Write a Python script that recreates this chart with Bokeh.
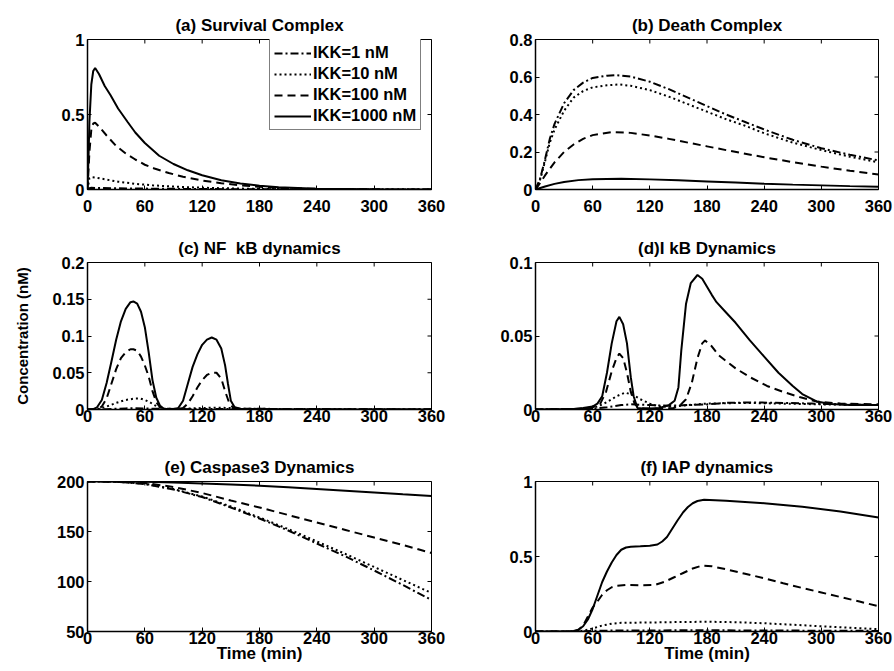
import math
from bokeh.plotting import figure
from bokeh.layouts import gridplot
from bokeh.models import Range1d, FixedTicker, Legend, LegendItem
from bokeh.embed import file_html
from bokeh.resources import INLINE

FONT = "Liberation Sans"

X_TICKS = [0, 60, 120, 180, 240, 300, 360]
SERIES_LABELS = ["IKK=1 nM", "IKK=10 nM", "IKK=100 nM", "IKK=1000 nM"]

# ---------------- (a) Survival Complex ----------------
A_T_1 = [0, 2, 4, 10, 30, 60, 100, 150, 200, 250, 360]
A_Y_1 = [0, 0.009, 0.011, 0.010, 0.008, 0.006, 0.004, 0.002, 0.001, 0.0005, 0]
A_T_10 = [0, 2, 4, 8, 20, 32, 50, 68, 85, 102, 130, 160, 200, 260, 360]
A_Y_10 = [0, 0.075, 0.083, 0.080, 0.066, 0.052, 0.038, 0.028, 0.021, 0.016, 0.010, 0.006, 0.003, 0.001, 0]
A_T_100 = [0, 1, 2, 4, 6, 8, 12, 20, 30, 40, 50, 60, 70, 85, 100, 120, 140, 160, 180, 200, 240, 300, 360]
A_Y_100 = [0, 0.12, 0.25, 0.40, 0.44, 0.445, 0.42, 0.36, 0.29, 0.24, 0.20, 0.165, 0.14, 0.11, 0.085, 0.06, 0.042,
           0.028, 0.018, 0.011, 0.004, 0.001, 0]
A_T_1000 = [0, 1, 2, 4, 6, 8, 12, 18, 24, 32, 42, 50, 60, 75, 90, 105, 120, 140, 160, 180, 200, 240, 300, 360]
A_Y_1000 = [0, 0.2, 0.45, 0.70, 0.79, 0.81, 0.77, 0.69, 0.63, 0.54, 0.45, 0.38, 0.31, 0.225, 0.17, 0.128, 0.095,
            0.062, 0.04, 0.025, 0.015, 0.005, 0.001, 0]

# ---------------- (b) Death Complex ----------------
B_T_1 = [0, 5, 10, 15, 20, 30, 40, 50, 60, 75, 85, 100, 120, 140, 160, 180, 200, 220, 240, 270, 300, 330, 360]
B_Y_1 = [0, 0.06, 0.16, 0.27, 0.35, 0.46, 0.53, 0.57, 0.595, 0.607, 0.61, 0.602, 0.575, 0.535, 0.49, 0.445, 0.40,
         0.36, 0.32, 0.265, 0.22, 0.185, 0.155]
B_T_10 = [0, 5, 10, 15, 20, 30, 40, 50, 60, 75, 88, 100, 120, 140, 160, 180, 200, 220, 240, 270, 300, 330, 360]
B_Y_10 = [0, 0.055, 0.15, 0.25, 0.32, 0.42, 0.49, 0.525, 0.545, 0.556, 0.56, 0.553, 0.53, 0.495, 0.455, 0.415,
          0.375, 0.34, 0.30, 0.25, 0.21, 0.175, 0.145]
B_T_100 = [0, 5, 10, 15, 20, 30, 40, 50, 60, 80, 100, 120, 140, 160, 180, 200, 240, 270, 300, 330, 360]
B_Y_100 = [0, 0.035, 0.075, 0.11, 0.145, 0.20, 0.24, 0.27, 0.29, 0.306, 0.302, 0.288, 0.27, 0.25, 0.23, 0.21,
           0.172, 0.146, 0.122, 0.10, 0.08]
B_T_1000 = [0, 5, 10, 20, 30, 45, 60, 90, 120, 150, 180, 210, 240, 270, 300, 330, 360]
B_Y_1000 = [0, 0.008, 0.016, 0.03, 0.04, 0.05, 0.055, 0.057, 0.054, 0.049, 0.043, 0.037, 0.031, 0.026, 0.022,
            0.018, 0.015]

# ---------------- (c) NF kB dynamics ----------------
C_T_1 = [0, 20, 40, 50, 70, 100, 130, 160, 360]
C_Y_1 = [0, 0.0005, 0.0015, 0.0018, 0.001, 0.0005, 0.0008, 0.0005, 0.0002]
C_T_10 = [0, 10, 15, 20, 30, 40, 50, 55, 60, 65, 70, 75, 80, 100, 120, 135, 150, 160, 360]
C_Y_10 = [0, 0.0005, 0.002, 0.004, 0.009, 0.013, 0.015, 0.015, 0.013, 0.01, 0.006, 0.003, 0.001, 0.001, 0.002,
          0.0025, 0.002, 0.001, 0]
C_T_100 = [0, 10, 15, 20, 25, 30, 35, 40, 45, 48, 52, 56, 60, 64, 68, 72, 76, 80, 95, 100, 105, 110, 115, 120, 125,
           130, 135, 140, 144, 148, 152, 160, 360]
C_Y_100 = [0, 0.001, 0.004, 0.015, 0.035, 0.055, 0.07, 0.078, 0.082, 0.082, 0.08, 0.072, 0.06, 0.045, 0.025, 0.01,
           0.003, 0.001, 0.0005, 0.002, 0.008, 0.018, 0.03, 0.04, 0.047, 0.05, 0.05, 0.042, 0.025, 0.01, 0.003,
           0.001, 0]
C_T_1000 = [0, 6, 10, 15, 20, 25, 30, 35, 40, 45, 48, 52, 56, 60, 64, 68, 72, 76, 80, 90, 95, 100, 105, 110, 115,
            120, 125, 130, 135, 140, 144, 147, 150, 154, 160, 200, 360]
C_Y_1000 = [0, 0.0005, 0.003, 0.013, 0.036, 0.065, 0.095, 0.12, 0.137, 0.146, 0.147, 0.144, 0.133, 0.112, 0.078,
            0.04, 0.016, 0.005, 0.001, 0.0005, 0.002, 0.012, 0.035, 0.058, 0.075, 0.088, 0.095, 0.098, 0.095, 0.083,
            0.06, 0.035, 0.012, 0.003, 0.001, 0.0005, 0]

# ---------------- (d) IkB dynamics ----------------
D_T_1 = [0, 60, 75, 90, 100, 120, 140, 160, 180, 200, 230, 260, 290, 320, 360]
D_Y_1 = [0, 0.0005, 0.0015, 0.003, 0.0035, 0.003, 0.0025, 0.003, 0.0035, 0.0045, 0.0048, 0.0045, 0.004, 0.0035,
         0.003]
D_T_10 = [0, 55, 65, 75, 85, 94, 102, 110, 120, 130, 145, 160, 180, 220, 260, 300, 360]
D_Y_10 = [0, 0.0005, 0.002, 0.005, 0.009, 0.0115, 0.01, 0.007, 0.004, 0.002, 0.002, 0.003, 0.004, 0.0045, 0.004,
          0.0035, 0.003]
D_T_100 = [0, 50, 60, 68, 74, 80, 85, 88, 92, 96, 100, 104, 108, 130, 145, 152, 158, 164, 170, 175, 178, 185, 192,
           200, 210, 225, 243, 260, 277, 295, 320, 360]
D_Y_100 = [0, 0.0005, 0.0015, 0.004, 0.012, 0.026, 0.035, 0.038, 0.035, 0.025, 0.012, 0.004, 0.001, 0.0005, 0.001,
           0.003, 0.007, 0.018, 0.035, 0.045, 0.047, 0.043, 0.037, 0.033, 0.028, 0.022, 0.016, 0.012, 0.0085,
           0.0055, 0.004, 0.0035]
D_T_1000 = [0, 40, 50, 60, 65, 70, 75, 80, 85, 88, 92, 96, 100, 103, 107, 115, 130, 140, 146, 150, 153, 158, 163,
            170, 175, 180, 185, 190, 200, 210, 225, 240, 255, 270, 280, 295, 310, 330, 360]
D_Y_1000 = [0, 0.0003, 0.001, 0.002, 0.004, 0.009, 0.025, 0.045, 0.06, 0.063, 0.058, 0.045, 0.022, 0.009, 0.001,
            0.0005, 0.001, 0.003, 0.006, 0.015, 0.04, 0.072, 0.086, 0.0915, 0.089, 0.0835, 0.078, 0.073, 0.066,
            0.059, 0.047, 0.036, 0.025, 0.016, 0.0105, 0.0055, 0.0037, 0.003, 0.003]

# ---------------- (e) Caspase3 dynamics ----------------
E_T = [0, 30, 60, 90, 120, 150, 180, 210, 240, 270, 300, 330, 360]
E_Y_1 = [200, 199.8, 197.5, 192, 184.5, 174, 163, 151, 138, 125, 111, 96.5, 81.5]
E_Y_10 = [200, 199.8, 197.8, 192.5, 185, 175, 164, 152.5, 140, 127.5, 114.5, 101.5, 88.5]
E_Y_100 = [200, 199.8, 198.5, 194.5, 188.5, 181, 174, 166.5, 159, 151.5, 144, 136.5, 128.5]
E_Y_1000 = [200, 200, 199.8, 199, 198, 197, 195.8, 194.2, 192.5, 190.8, 189, 187.2, 185.5]

# ---------------- (f) IAP dynamics ----------------
F_T_1 = [0, 45, 60, 90, 180, 270, 360]
F_Y_1 = [0, 0, 0.004, 0.007, 0.008, 0.006, 0.004]
F_T_10 = [0, 40, 50, 60, 70, 80, 90, 120, 150, 180, 210, 240, 270, 300, 330, 360]
F_Y_10 = [0, 0, 0.005, 0.02, 0.04, 0.052, 0.058, 0.06, 0.063, 0.065, 0.062, 0.055, 0.045, 0.035, 0.025, 0.016]
F_T_100 = [0, 40, 45, 50, 55, 60, 65, 70, 75, 80, 85, 95, 110, 125, 135, 145, 155, 165, 175, 185, 200, 220, 240,
           260, 280, 300, 320, 340, 360]
F_Y_100 = [0, 0, 0.01, 0.04, 0.1, 0.16, 0.2, 0.245, 0.275, 0.295, 0.305, 0.31, 0.308, 0.31, 0.33, 0.36, 0.39, 0.42,
           0.44, 0.435, 0.415, 0.385, 0.355, 0.322, 0.29, 0.26, 0.23, 0.2, 0.168]
F_T_1000 = [0, 35, 40, 45, 50, 55, 60, 65, 70, 75, 80, 85, 90, 95, 100, 110, 120, 128, 133, 138, 143, 149, 155, 160,
            165, 170, 177, 200, 240, 280, 320, 360]
F_Y_1000 = [0, 0, 0.003, 0.012, 0.035, 0.08, 0.15, 0.24, 0.33, 0.40, 0.46, 0.51, 0.545, 0.56, 0.565, 0.568, 0.572,
            0.58, 0.60, 0.63, 0.68, 0.74, 0.795, 0.83, 0.855, 0.87, 0.878, 0.872, 0.855, 0.832, 0.80, 0.76]

DASHES = ["8 3 2 3", "2 3", "8 5", "solid"]

TICK_SIZE = "16.5px"
TITLE_SIZE = "17px"


def style_text_axis(ax):
    ax.major_label_text_font = FONT
    ax.major_label_text_font_style = "bold"
    ax.major_label_text_font_size = TICK_SIZE
    ax.major_label_text_color = "black"
    ax.axis_label_text_font = FONT
    ax.axis_label_text_font_style = "bold"
    ax.axis_label_text_color = "black"
    ax.major_tick_in = 4
    ax.major_tick_out = 0
    ax.minor_tick_line_color = None
    ax.major_tick_line_color = "black"
    ax.axis_line_color = "black"
    ax.axis_line_width = 1.5


def panel(title, ylo, yhi, yticks, ylabels, series, width, height, bl, br, bt, bb,
          xstand, xlabel=None, ylabel=None, legend=False):
    p = figure(width=width, height=height, x_range=Range1d(0, 360), y_range=Range1d(ylo, yhi),
               output_backend="svg", toolbar_location=None,
               min_border_left=bl, min_border_right=br, min_border_top=bt, min_border_bottom=bb)
    p.background_fill_color = "white"
    p.border_fill_color = "white"
    p.outline_line_color = "black"
    p.outline_line_width = 1
    p.outline_line_alpha = 1
    p.grid.visible = False

    p.title.text = title
    p.title.text_font = FONT
    p.title.text_font_style = "bold"
    p.title.text_font_size = TITLE_SIZE
    p.title.align = "center"
    p.title.text_color = "black"
    p.title.standoff = 9

    xa = p.xaxis[0]
    xa.ticker = FixedTicker(ticks=X_TICKS)
    style_text_axis(xa)
    xa.major_label_standoff = xstand
    if xlabel:
        xa.axis_label = xlabel
        xa.axis_label_text_font_size = "17px"
        xa.axis_label_standoff = -3

    ya = p.yaxis[0]
    ya.ticker = FixedTicker(ticks=yticks)
    ya.major_label_overrides = {t: s for t, s in zip(yticks, ylabels)}
    style_text_axis(ya)
    ya.major_label_standoff = 3
    if ylabel:
        ya.axis_label = ylabel
        ya.axis_label_text_font_size = "15px"
        ya.axis_label_standoff = 18

    # inward ticks on the top and right edges (half of each dash is clipped by the frame)
    p.scatter(X_TICKS, [yhi] * len(X_TICKS), marker="dash", size=8, angle=math.pi / 2,
              line_color="black", line_width=1)
    p.scatter([360] * len(yticks), yticks, marker="dash", size=8,
              line_color="black", line_width=1)

    items = []
    for (t, y), dash, lab in zip(series, DASHES, SERIES_LABELS):
        r = p.line(t, y, line_color="black", line_width=2, line_dash=dash)
        items.append(LegendItem(label=lab, renderers=[r]))

    if legend:
        lg = Legend(items=items, location=(182, 59))
        lg.label_text_font = FONT
        lg.label_text_font_style = "bold"
        lg.label_text_font_size = "16.5px"
        lg.label_text_color = "black"
        lg.glyph_width = 37
        lg.glyph_height = 18
        lg.label_height = 18
        lg.label_standoff = 2
        lg.spacing = 2
        lg.padding = 4
        lg.margin = 0
        lg.border_line_color = "black"
        lg.border_line_width = 1
        lg.background_fill_color = "white"
        lg.background_fill_alpha = 1
        p.add_layout(lg)
    return p


W = 447

pa = panel("(a) Survival Complex", 0, 1, [0, 0.5, 1], ["0", "0.5", "1"],
           [(A_T_1, A_Y_1), (A_T_10, A_Y_10), (A_T_100, A_Y_100), (A_T_1000, A_Y_1000)],
           W, 230, 87, 16, 39, 41, 10, legend=True)
pb = panel("(b) Death Complex", 0, 0.8, [0, 0.2, 0.4, 0.6, 0.8], ["0", "0.2", "0.4", "0.6", "0.8"],
           [(B_T_1, B_Y_1), (B_T_10, B_Y_10), (B_T_100, B_Y_100), (B_T_1000, B_Y_1000)],
           W, 230, 88, 16, 39, 41, 10)
pc = panel("(c) NF\u00a0\u00a0kB dynamics", 0, 0.2, [0, 0.05, 0.1, 0.15, 0.2], ["0", "0.05", "0.1", "0.15", "0.2"],
           [(C_T_1, C_Y_1), (C_T_10, C_Y_10), (C_T_100, C_Y_100), (C_T_1000, C_Y_1000)],
           W, 218, 87, 16, 32, 39, 0, ylabel="Concentration (nM)")
pd_ = panel("(d)I kB Dynamics", 0, 0.1, [0, 0.05, 0.1], ["0", "0.05", "0.1"],
            [(D_T_1, D_Y_1), (D_T_10, D_Y_10), (D_T_100, D_Y_100), (D_T_1000, D_Y_1000)],
            W, 218, 88, 16, 32, 39, 0)
pe = panel("(e) Caspase3 Dynamics", 50, 200, [50, 100, 150, 200], ["50", "100", "150", "200"],
           [(E_T, E_Y_1), (E_T, E_Y_10), (E_T, E_Y_100), (E_T, E_Y_1000)],
           W, 221, 87, 16, 33, 38, 0, xlabel="Time (min)")
pf = panel("(f) IAP dynamics", 0, 1, [0, 0.5, 1], ["0", "0.5", "1"],
           [(F_T_1, F_Y_1), (F_T_10, F_Y_10), (F_T_100, F_Y_100), (F_T_1000, F_Y_1000)],
           W, 221, 88, 16, 33, 38, 0, xlabel="Time (min)")

grid = gridplot([[pa, pb], [pc, pd_], [pe, pf]], toolbar_location=None)

open("out.html", "w").write(file_html(grid, INLINE))
